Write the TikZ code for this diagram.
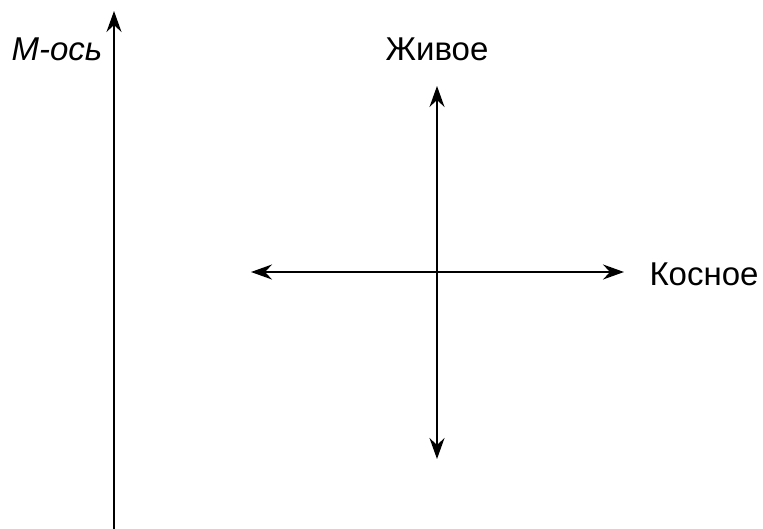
\documentclass[tikz,border=0pt]{standalone}
\usepackage{fontspec}
\setmainfont{Liberation Sans}
\usetikzlibrary{arrows.meta}
\begin{document}
\begin{tikzpicture}[x=1pt,y=-1pt,
    >={Stealth[length=21pt,width=15pt,inset=7pt]},
    axis/.style={line width=2pt},
    lbl/.style={anchor=base, inner sep=0pt, font=\fontsize{33}{38}\selectfont}]
    \useasboundingbox (0,0) rectangle (763,528);

    % M axis
    \coordinate (mbase) at (114,530);
    \coordinate (mtip) at (114,11);
    \draw[axis, ->] (mbase) -- (mtip);
    \node[lbl] (mlabel) at (57,60) {\itshape М-ось};

    % Cross
    \coordinate (up) at (437,86);
    \coordinate (down) at (437,459);
    \coordinate (left) at (251,272);
    \coordinate (right) at (624,272);
    \draw[axis, <->] (up) -- (down);
    \draw[axis, <->] (left) -- (right);
    \node[lbl] (alive) at (437,60) {Живое};
    \node[lbl] (inert) at (704,285) {Косное};
\end{tikzpicture}
\end{document}
